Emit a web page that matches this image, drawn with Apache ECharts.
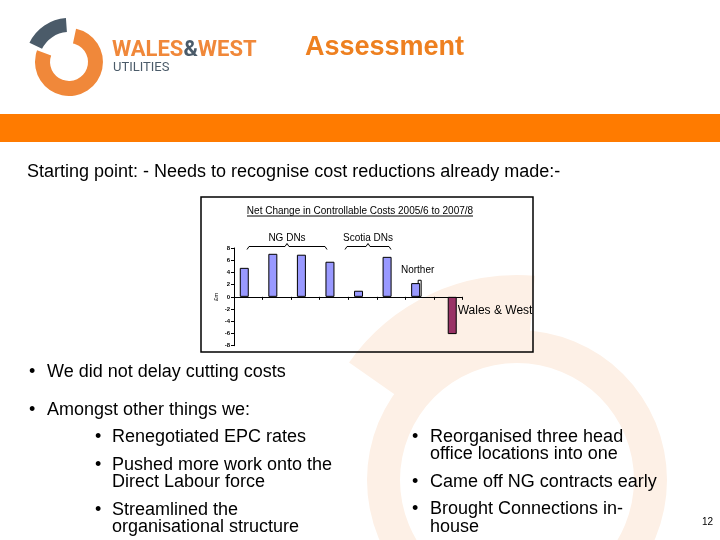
<!DOCTYPE html>
<html><head><meta charset="utf-8">
<script src="https://cdn.jsdelivr.net/npm/echarts@6/dist/echarts.min.js"></script>
<style>html,body{margin:0;padding:0;background:#fff}#c{width:720px;height:540px}</style>
</head><body><div id="c"></div>
<script>
// ---- data ----
const categories = ['NG DN 1', 'NG DN 2', 'NG DN 3', 'NG DN 4', 'Scotia DN 1', 'Scotia DN 2', 'Northern', 'Wales & West'];
const otherDNs = [4.75, 7.05, 6.9, 5.75, 1.0, 6.55, 2.25, null];
const walesWest = [null, null, null, null, null, null, null, -6.1];
const northernExtra = [null, null, null, null, null, null, 2.8, null];
const yMin = -8, yMax = 8, yStep = 2;
const chartTitle = 'Net Change in Controllable Costs 2005/6 to 2007/8';
const groupLabels = ['NG DNs', 'Scotia DNs'];
const northernLabel = 'Norther';
const wwLabel = 'Wales & West';
const yName = '£m';

const F = '"Liberation Sans", Arial, sans-serif';
const chart = echarts.init(document.getElementById('c'), null, {renderer: 'canvas'});

const blueData = otherDNs.map((v, i) => i === 6 ? {
  value: v,
  label: {show: true, formatter: northernLabel, position: 'top', distance: 8, offset: [2, 0],
    fontFamily: F, fontSize: 10, color: '#000'}
} : v);

function txt(text, x, y, size, opts) {
  return Object.assign({
    type: 'text',
    style: Object.assign({text: text, x: x, y: y, fontFamily: F, fontSize: size, fill: '#000',
      verticalAlign: 'middle', align: 'left'}, (opts && opts.style) || {})
  }, (opts && opts.el) || {});
}
const D2R = Math.PI / 180;
const B = 18;
const graphics = [
  // watermark
  {type: 'ring', z: -10, shape: {cx: 517, cy: 480, r: 150, r0: 117}, style: {fill: '#FDF0E6'}},
  {type: 'sector', z: -10, shape: {cx: 517, cy: 480, r: 205, r0: 120, startAngle: 215 * D2R, endAngle: 275 * D2R}, style: {fill: '#FDF0E6'}},
  // logo
  {type: 'sector', shape: {cx: 69, cy: 62, r: 34, r0: 19, startAngle: -78 * D2R, endAngle: 200 * D2R}, style: {fill: '#F0883A'}},
  {type: 'sector', shape: {cx: 69, cy: 62, r: 44, r0: 30, startAngle: 206 * D2R, endAngle: 266 * D2R}, style: {fill: '#4B5B69'}},
  {type: 'text', style: {text: '{o|WALES}{d|&}{o|WEST}', x: 112, y: 50, verticalAlign: 'middle',
    rich: {o: {fontFamily: 'Roboto', fontWeight: 'bold', fontSize: 22, fill: '#F0883A', color: '#F0883A'},
           d: {fontFamily: 'Roboto', fontWeight: 'bold', fontSize: 22, fill: '#4B5B69', color: '#4B5B69'}}}},
  txt('UTILITIES', 113, 68, 13, {style: {fontFamily: 'Roboto', fill: '#4B5B69'}}),
  // title
  txt('Assessment', 305, 48, 27, {style: {fontWeight: 'bold', fill: '#EE8020'}}),
  // band
  {type: 'rect', shape: {x: 0, y: 114, width: 720, height: 28}, style: {fill: '#FF7B00'}},
  txt('Starting point: - Needs to recognise cost reductions already made:-', 27, 172, B),
  // chart box
  {type: 'rect', shape: {x: 201, y: 197, width: 332, height: 155}, style: {fill: 'none', stroke: '#000', lineWidth: 1.5}},
  txt(chartTitle, 360, 211, 10, {style: {align: 'center'}}),
  {type: 'line', shape: {x1: 247, y1: 216, x2: 473, y2: 216}, style: {stroke: '#000', lineWidth: 1}},
  txt(groupLabels[0], 287, 238, 10, {style: {align: 'center'}}),
  txt(groupLabels[1], 368, 238, 10, {style: {align: 'center'}}),
  {type: 'polyline', shape: {points: [[247, 249.5], [249, 246.5], [285, 246.5], [287, 243.5], [289, 246.5], [325, 246.5], [327, 249.5]]}, style: {stroke: '#000', lineWidth: 1, fill: 'none'}},
  {type: 'polyline', shape: {points: [[345, 249.5], [347, 246.5], [366, 246.5], [368, 243.5], [370, 246.5], [389, 246.5], [391, 249.5]]}, style: {stroke: '#000', lineWidth: 1, fill: 'none'}},
  // bullets
  txt('•', 29, 372, B), txt('We did not delay cutting costs', 47, 372, B),
  txt('•', 29, 410, B), txt('Amongst other things we:', 47, 410, B),
  txt('•', 95, 437, B), txt('Renegotiated EPC rates', 112, 437, B),
  txt('•', 95, 465, B), txt('Pushed more work onto the', 112, 465, B), txt('Direct Labour force', 112, 482, B),
  txt('•', 95, 510, B), txt('Streamlined the', 112, 510, B), txt('organisational structure', 112, 527, B),
  txt('•', 412, 437, B), txt('Reorganised three head', 430, 437, B), txt('office locations into one', 430, 454, B),
  txt('•', 412, 482, B), txt('Came off NG contracts early', 430, 482, B),
  txt('•', 412, 509, B), txt('Brought Connections in-', 430, 509, B), txt('house', 430, 527, B),
  txt('12', 702, 522, 10)
];

chart.setOption({
  animation: false,
  backgroundColor: 'transparent',
  grid: {left: 234, right: 257.5, top: 248, bottom: 194.3, containLabel: false},
  xAxis: [
    {type: 'category', data: categories, boundaryGap: true,
      axisLine: {show: true, onZero: true, lineStyle: {color: '#000', width: 1}},
      axisTick: {show: true, length: 3, interval: 0, lineStyle: {color: '#000'}},
      axisLabel: {show: false}, splitLine: {show: false}},
    {type: 'category', data: categories, show: false}
  ],
  yAxis: {type: 'value', min: yMin, max: yMax, interval: yStep,
    name: yName, nameLocation: 'middle', nameGap: 15, nameRotate: 90,
    nameTextStyle: {fontFamily: F, fontSize: 6, color: '#000'},
    axisLine: {show: true, lineStyle: {color: '#000', width: 1}},
    axisTick: {show: true, length: 3, lineStyle: {color: '#000'}},
    axisLabel: {fontFamily: F, fontSize: 6, fontWeight: 'bold', color: '#000', margin: 4},
    splitLine: {show: false}},
  series: [
    {type: 'bar', name: 'Other DNs', data: blueData, xAxisIndex: 0, barWidth: 9, barGap: '-11%', z: 3,
      itemStyle: {color: '#9999FF', borderColor: '#000', borderWidth: 1}},
    {type: 'bar', name: 'Wales & West', data: walesWest, xAxisIndex: 0, barWidth: 9, z: 3,
      itemStyle: {color: '#993366', borderColor: '#000', borderWidth: 1},
      label: {show: true, formatter: wwLabel, position: 'right', distance: 1, offset: [0, -5],
        fontFamily: F, fontSize: 12, color: '#000'}},
    {type: 'bar', name: 'Northern extra', data: northernExtra, xAxisIndex: 1, barWidth: 4, z: 2,
      itemStyle: {color: '#FFFFFF', borderColor: '#000', borderWidth: 1}}
  ],
  graphic: {elements: graphics}
});
</script></body></html>
